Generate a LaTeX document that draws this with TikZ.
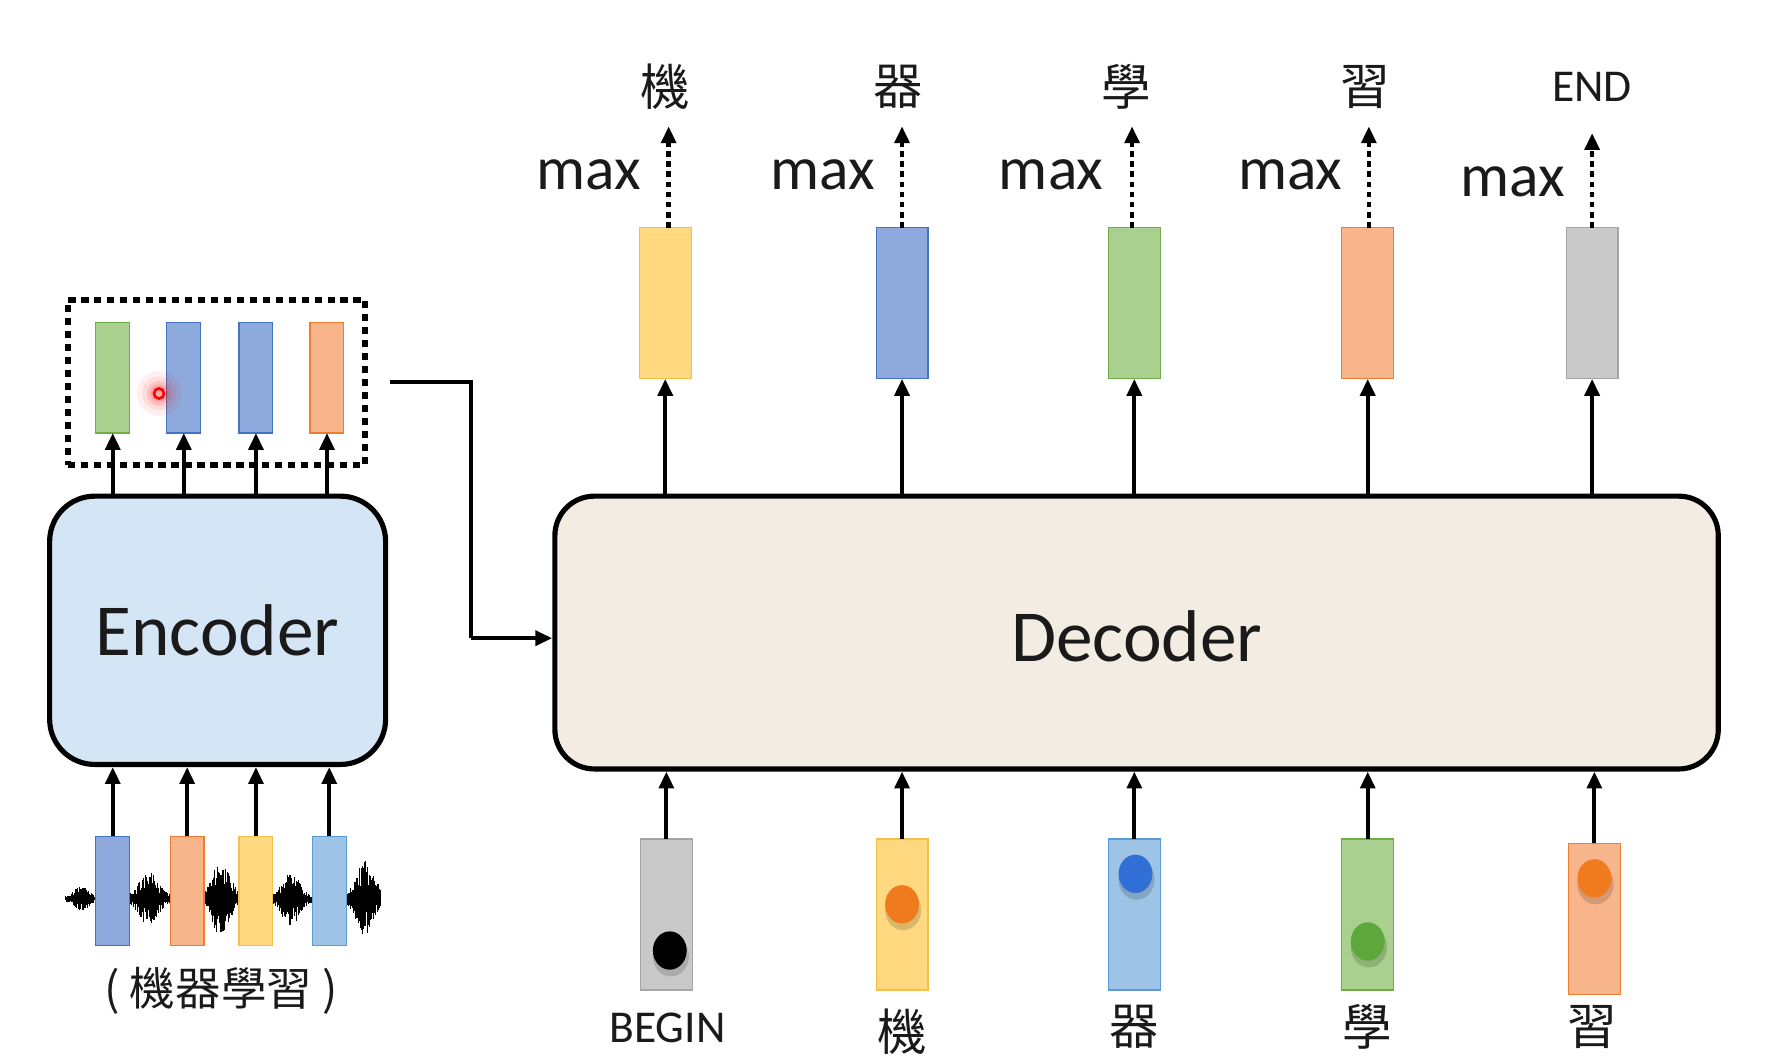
\documentclass[tikz,border=0pt]{standalone}
\usepackage{fontspec}
\setmainfont{Carlito}
\newfontfamily\cjk{Noto Sans CJK TC}
\usetikzlibrary{arrows.meta}
\definecolor{cY}{HTML}{FFD880}
\definecolor{cYd}{HTML}{F5C04A}
\definecolor{cB}{HTML}{8EA9DB}
\definecolor{cBd}{HTML}{4472C4}
\definecolor{cL}{HTML}{9DC3E6}
\definecolor{cLd}{HTML}{5B9BD5}
\definecolor{cG}{HTML}{A9D08E}
\definecolor{cGd}{HTML}{70AD47}
\definecolor{cO}{HTML}{F8B48A}
\definecolor{cOd}{HTML}{ED7D31}
\definecolor{cR}{HTML}{C9C9C9}
\definecolor{cRd}{HTML}{A5A5A5}
\definecolor{encfill}{HTML}{D4E5F5}
\definecolor{decfill}{HTML}{F3ECE2}
\definecolor{dotO}{HTML}{F07A1E}
\definecolor{dotB}{HTML}{2F6FD6}
\definecolor{dotG}{HTML}{5DA83A}
\definecolor{txt}{HTML}{1A1A1A}
\begin{document}
\begin{tikzpicture}[x=0.02cm,y=-0.02cm,
  arr/.style={line width=2.1pt,-{Triangle[length=0.3cm,width=0.26cm]}},
  dotarr/.style={line width=2.2pt,dash pattern=on 0.1cm off 0.08cm,-{Triangle[length=0.3cm,width=0.26cm]}},
  bar/.style={draw,line width=0.6pt,inner sep=0pt,outer sep=0pt},
  dbar/.style={bar,minimum width=0.92cm,minimum height=2.68cm},
  ebar/.style={bar,minimum width=0.6cm,minimum height=1.96cm},
  big/.style={font=\fontsize{37}{40}\selectfont,text=txt},
  maxl/.style={font=\fontsize{31}{34}\selectfont,text=txt,anchor=east,inner sep=0pt},
  lat/.style={font=\fontsize{23}{26}\selectfont,text=txt,inner sep=0pt},
  cj/.style={font=\cjk\fontsize{25}{28}\selectfont,text=txt,inner sep=0pt},
  box/.style={draw,line width=2.6pt,inner sep=0pt}]
\useasboundingbox (0,0) rectangle (1568,942);

% ---------- Encoder ----------
\node[box,fill=encfill,rounded corners=0.8cm,minimum width=5.96cm,minimum height=4.76cm] (enc) at (193,559) {};
\node[big] (enctxt) at (enc.center) {Encoder};

% waveform
\pgfmathsetseed{7}
\foreach \i in {0,...,466}{
  \pgfmathsetmacro{\xx}{58+\i*0.6}
  \pgfmathsetmacro{\da}{min(abs((\xx-72)/9),4)}
  \pgfmathsetmacro{\db}{min(abs((\xx-132)/12),4)}
  \pgfmathsetmacro{\dc}{min(abs((\xx-196)/12),4)}
  \pgfmathsetmacro{\dd}{min(abs((\xx-258)/11),4)}
  \pgfmathsetmacro{\de}{min(abs((\xx-324)/11),4)}
  \pgfmathsetmacro{\env}{2+9*exp(-\da*\da)+22*exp(-\db*\db)+30*exp(-\dc*\dc)+22*exp(-\dd*\dd)+32*exp(-\de*\de)}
  \pgfmathsetmacro{\aa}{\env*(0.35+0.65*rnd)}
  \pgfmathsetmacro{\bb}{\env*(0.35+0.65*rnd)}
  \draw[line width=0.55pt] (\xx,797-\aa) -- (\xx,797+\bb);
}

% encoder input bars
\node[ebar,fill=cB,draw=cBd,minimum height=1.94cm] (ei1) at (100,790) {};
\node[ebar,fill=cO,draw=cOd,minimum height=1.94cm] (ei2) at (166,790) {};
\node[ebar,fill=cY,draw=cYd,minimum height=1.94cm] (ei3) at (227,790) {};
\node[ebar,fill=cL,draw=cLd,minimum height=1.94cm] (ei4) at (292,790) {};
\foreach \k in {1,...,4}{\draw[arr] (ei\k.north) -- (ei\k.north |- enc.south);}
\node[cj,font=\cjk\fontsize{23}{26}\selectfont] (inlab) at (196,879) {( 機器學習 )};

% encoder output bars
\node[draw,line width=3pt,dash pattern=on 0.13cm off 0.1cm,minimum width=5.28cm,minimum height=2.92cm,inner sep=0pt] (ctx) at (192,339) {};
\node[ebar,fill=cG,draw=cGd] (eo1) at (100,335) {};
\node[ebar,fill=cB,draw=cBd] (eo2) at (163,335) {};
\node[ebar,fill=cB,draw=cBd] (eo3) at (227,335) {};
\node[ebar,fill=cO,draw=cOd] (eo4) at (290,335) {};
\foreach \k in {1,...,4}{\draw[arr] (eo\k.south |- enc.north) -- (eo\k.south);}

% laser pointer
\foreach \r/\o in {20/0.06,15/0.08,11/0.12,8/0.15}{\fill[red,opacity=\o] (141,349) circle[radius=\r];}
\draw[red,line width=1.3pt] (141,349) circle[radius=4.5];

% ---------- Decoder ----------
\node[box,fill=decfill,rounded corners=0.7cm,minimum width=20.64cm,minimum height=4.84cm] (dec) at (1008,561) {};
\node[big] (dectxt) at (1008,564) {Decoder};

\coordinate (bend) at (418,566);
\draw[line width=2.1pt] ([xshift=0.38cm]ctx.east) -| (bend);
\draw[arr] (bend) -- (bend -| dec.west);

% decoder output bars
\node[dbar,fill=cY,draw=cYd] (do1) at (590,269) {};
\node[dbar,fill=cB,draw=cBd] (do2) at (800,269) {};
\node[dbar,fill=cG,draw=cGd] (do3) at (1006,269) {};
\node[dbar,fill=cO,draw=cOd] (do4) at (1213,269) {};
\node[dbar,fill=cR,draw=cRd] (do5) at (1412,269) {};
\foreach \k in {1,...,5}{\draw[arr] (do\k.south |- dec.north) -- (do\k.south);}

% outputs
\node[cj] (o1) at (590,77) {機};
\node[cj] (o2) at (797,77) {器};
\node[cj] (o3) at (999,77) {學};
\node[cj] (o4) at (1211,77) {習};
\node[lat] (o5) at (1412,77) {END};
\coordinate (t1) at (593,112);
\coordinate (t2) at (800,112);
\coordinate (t3) at (1004,112);
\coordinate (t4) at (1214,112);
\coordinate (t5) at (1412,118);
\foreach \k in {1,...,5}{\draw[dotarr] (do\k.north -| t\k) -- (t\k);}
\node[maxl] (m1) at (569,155) {max};
\node[maxl] (m2) at (776,155) {max};
\node[maxl] (m3) at (979,155) {max};
\node[maxl] (m4) at (1191,155) {max};
\node[maxl] (m5) at (1388,161) {max};

% decoder input bars
\node[dbar,fill=cR,draw=cRd] (di1) at (591,811) {};
\node[dbar,fill=cY,draw=cYd] (di2) at (800,811) {};
\node[dbar,fill=cL,draw=cLd] (di3) at (1006,811) {};
\node[dbar,fill=cG,draw=cGd] (di4) at (1213,811) {};
\node[dbar,fill=cO,draw=cOd] (di5) at (1414,815) {};
\foreach \k in {1,...,5}{\draw[arr] (di\k.north) -- (di\k.north |- dec.south);}

% one-hot dots
\foreach \x/\y/\c in {594/843/black,800/802/dotO,1007/775/dotB,1213/835/dotG,1414/779/dotO}{
  \fill[black,opacity=0.15] (\x+1,\y+5) ellipse[x radius=16,y radius=18];
  \fill[\c] (\x,\y) ellipse[x radius=15,y radius=17];
}

% input labels
\node[lat] (b1) at (592,912) {BEGIN};
\node[cj] (b2) at (800,915) {機};
\node[cj] (b3) at (1006,911) {器};
\node[cj] (b4) at (1213,911) {學};
\node[cj] (b5) at (1412,911) {習};
\end{tikzpicture}
\end{document}
